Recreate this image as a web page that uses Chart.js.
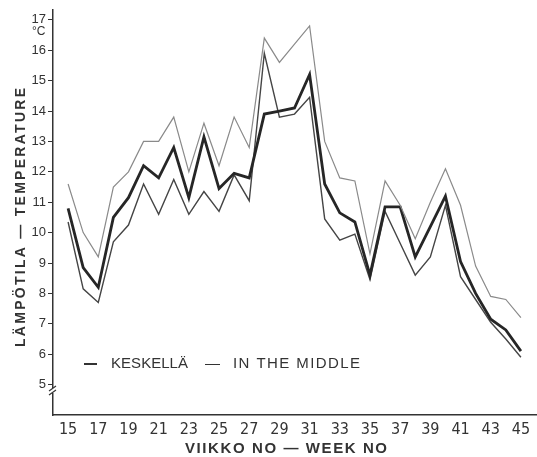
<!DOCTYPE html>
<html>
<head>
<meta charset="utf-8">
<script src="https://cdn.jsdelivr.net/npm/chart.js@4.4.0/dist/chart.umd.min.js"></script>
<style>
    body { margin: 0; background: #fff; }
</style>
</head>
<body>
<canvas id="tempChart" width="537" height="457"></canvas>
<script>
// weeks 15..45, one reading per week
var weeks = [15, 16, 17, 18, 19, 20, 21, 22, 23, 24, 25, 26, 27, 28, 29, 30,
    31, 32, 33, 34, 35, 36, 37, 38, 39, 40, 41, 42, 43, 44, 45];
var weekTicks = [15, 17, 19, 21, 23, 25, 27, 29, 31, 33, 35, 37, 39, 41, 43, 45];
var tempTicks = [5, 6, 7, 8, 9, 10, 11, 12, 13, 14, 15, 16, 17];

// thin upper line
var upperTemp = [11.6, 10.0, 9.2, 11.5, 12.0, 13.0, 13.0, 13.8, 12.0, 13.6, 12.2, 13.8, 12.8, 16.4, 15.6, 16.2,
    16.8, 13.0, 11.8, 11.7, 9.3, 11.7, 10.9, 9.8, 11.0, 12.1, 10.9, 8.9, 7.9, 7.8, 7.2];
// thick line = keskellä / in the middle
var middleTemp = [10.8, 8.85, 8.2, 10.5, 11.15, 12.2, 11.8, 12.8, 11.15, 13.15, 11.45, 11.95, 11.8, 13.9, 14.0, 14.1,
    15.2, 11.6, 10.65, 10.35, 8.6, 10.85, 10.85, 9.2, 10.2, 11.2, 9.05, 8.0, 7.15, 6.8, 6.1];
// thin lower line
var lowerTemp = [10.35, 8.15, 7.7, 9.7, 10.25, 11.6, 10.6, 11.75, 10.6, 11.35, 10.7, 11.9, 11.05, 15.9, 13.8, 13.9,
    14.45, 10.45, 9.75, 9.95, 8.45, 10.7, 9.65, 8.6, 9.2, 10.9, 8.55, 7.8, 7.05, 6.5, 5.9];

var inkColor = '#333';
var narrowFont = "'Liberation Sans Narrow', 'DejaVu Sans Condensed', sans-serif";
var plainFont = "'Liberation Sans', Arial, sans-serif";

function toPoints(values) {
    return values.map(function (v, i) { return { x: weeks[i], y: v }; });
}

// stretch text to a given width with letter spacing (old drawing has wide lettering)
function fitText(ctx, text, x, y, width) {
    ctx.letterSpacing = '0px';
    var w = ctx.measureText(text).width;
    var sp = text.length > 1 ? (width - w) / (text.length - 1) : 0;
    ctx.letterSpacing = sp + 'px';
    ctx.fillText(text, x, y);
    ctx.letterSpacing = '0px';
}

var extras = {
    id: 'extras',
    afterDraw: function (chart) {
        var ctx = chart.ctx;
        ctx.save();
        ctx.fillStyle = inkColor;
        ctx.textAlign = 'left';
        ctx.textBaseline = 'middle';

        // y title
        ctx.save();
        ctx.translate(21, 347);
        ctx.rotate(-Math.PI / 2);
        ctx.font = 'bold 14px ' + plainFont;
        fitText(ctx, 'LÄMPÖTILA — TEMPERATURE', 0, 0, 259);
        ctx.restore();

        // x title
        ctx.font = 'bold 15px ' + plainFont;
        fitText(ctx, 'VIIKKO NO — WEEK NO', 185, 449, 202);

        // unit
        ctx.font = '12px ' + plainFont;
        ctx.fillText('°C', 32, 32);

        // legend
        ctx.strokeStyle = inkColor;
        ctx.lineWidth = 2;
        ctx.beginPath();
        ctx.moveTo(84, 364);
        ctx.lineTo(97, 364);
        ctx.stroke();
        ctx.font = '15px ' + plainFont;
        fitText(ctx, 'KESKELLÄ', 111, 364, 77);
        fitText(ctx, '—', 205, 364, 12);
        fitText(ctx, 'IN THE MIDDLE', 233, 364, 127);

        // axis break under 5
        var ax = chart.chartArea.left;
        ctx.fillStyle = '#fff';
        ctx.fillRect(ax - 3, 388, 6, 5);
        ctx.lineWidth = 1.2;
        ctx.beginPath();
        ctx.moveTo(ax - 4, 391);
        ctx.lineTo(ax + 3, 386);
        ctx.moveTo(ax - 4, 395);
        ctx.lineTo(ax + 3, 390);
        ctx.stroke();
        ctx.restore();
    }
};

new Chart('tempChart', {
    type: 'line',
    data: {
        datasets: [{
            label: 'upper',
            data: toPoints(upperTemp),
            borderColor: '#8a8a8a',
            borderWidth: 1.2
        }, {
            label: 'KESKELLÄ — IN THE MIDDLE',
            data: toPoints(middleTemp),
            borderColor: '#262626',
            borderWidth: 2.8
        }, {
            label: 'lower',
            data: toPoints(lowerTemp),
            borderColor: '#454545',
            borderWidth: 1.4
        }]
    },
    options: {
        responsive: false,
        animation: false,
        devicePixelRatio: 1,
        layout: { padding: { top: 8, right: 1, left: 0, bottom: 0 } },
        elements: { point: { radius: 0 }, line: { tension: 0 } },
        plugins: { legend: { display: false }, tooltip: { enabled: false } },
        scales: {
            x: {
                type: 'linear',
                min: 14,
                max: 46,
                afterBuildTicks: function (s) { s.ticks = weekTicks.map(function (v) { return { value: v }; }); },
                afterFit: function (s) { s.height = 42; },
                grid: { display: false, drawTicks: false },
                border: { display: true, color: inkColor, width: 1.5 },
                ticks: { color: inkColor, padding: 5, maxRotation: 0, autoSkip: false, font: { family: narrowFont, size: 16 } }
            },
            y: {
                min: 4,
                max: 17.33,
                afterBuildTicks: function (s) { s.ticks = tempTicks.map(function (v) { return { value: v }; }); },
                afterFit: function (s) { s.width = 53; },
                grid: { drawOnChartArea: false, drawTicks: true, tickLength: 5, color: inkColor, lineWidth: 1 },
                border: { display: true, color: inkColor, width: 1.5 },
                ticks: { color: inkColor, padding: 2, autoSkip: false, font: { family: plainFont, size: 13 } }
            }
        }
    },
    plugins: [extras]
});
</script>
</body>
</html>
